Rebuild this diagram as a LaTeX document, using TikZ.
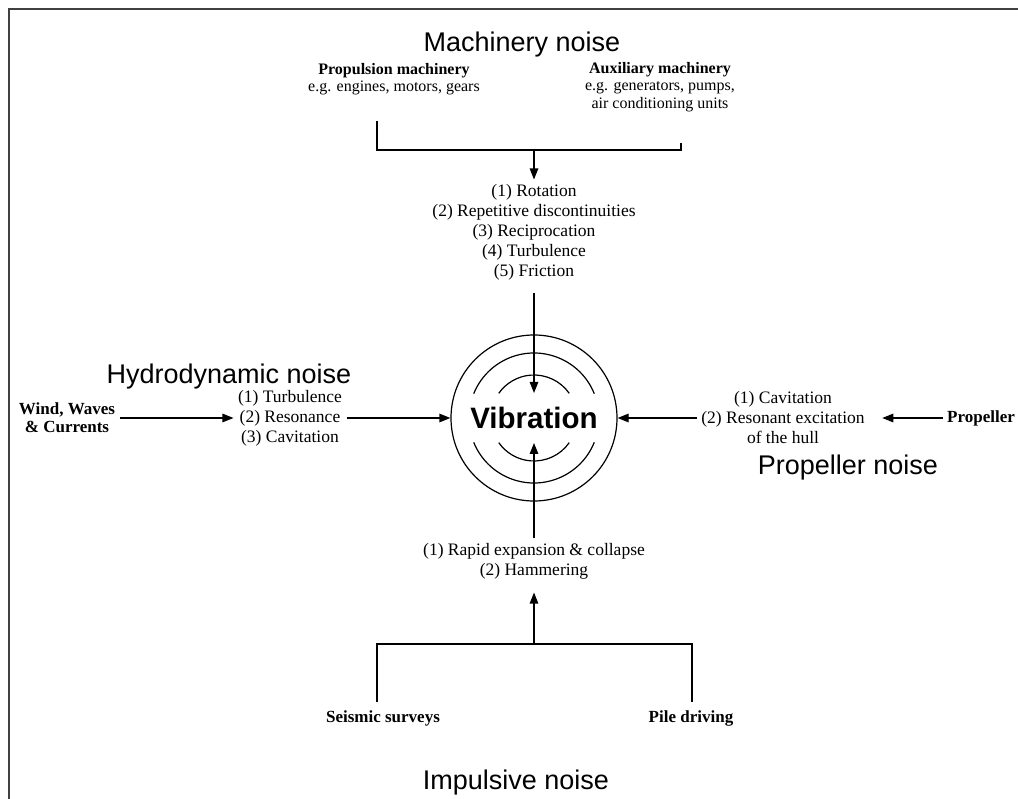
\documentclass[tikz,border=0pt]{standalone}
\usepackage{fontspec}
\setmainfont{Liberation Serif}
\newfontfamily\headfont{Liberation Sans}
\usetikzlibrary{arrows.meta}
\tikzset{
  effect/.style={align=center, inner sep=4pt, font=\fontsize{17.5}{20}\selectfont},
  kind/.style={effect, font=\fontsize{16}{17.5}\selectfont},
  src/.style={effect, font=\fontsize{17}{18}\selectfont\bfseries},
  title/.style={inner sep=0pt, font=\headfont\fontsize{27}{30}\selectfont},
  feed/.style={-{Triangle[length=11pt,width=8.5pt]}}
}
\begin{document}
\begin{tikzpicture}[x=1pt, y=-1pt, line width=1.2pt]
  \clip (0,0) rectangle (1018,799);
  \draw[line width=2pt, black!75] (9,9) rectangle (1040,820);

  % headings
  \node[title] (machT) at (522,45) {Machinery noise};
  \node[title] (hydroT) at (229,377) {Hydrodynamic noise};
  \node[title] (propT) at (848,468) {Propeller noise};
  \node[title] (implT) at (516,783) {Impulsive noise};

  % centre target
  \node[circle, draw, minimum size=166, inner sep=0pt,
        font=\headfont\bfseries\fontsize{29.5}{30}\selectfont] (vib) at (534,418) {Vibration};
  \foreach \rad/\ang in {65/22, 43/35} {
    \draw ([shift={(\ang:\rad)}]vib.center) arc[start angle=\ang, end angle=180-\ang, radius=\rad];
    \draw ([shift={(-\ang:\rad)}]vib.center) arc[start angle=-\ang, end angle=-180+\ang, radius=\rad];
  }
  \coordinate (vibN) at (534,393);
  \coordinate (vibS) at (534,443);

  % machinery
  \node[kind] (propm) at (394,79) {\textbf{Propulsion machinery}\\e.g. engines, motors, gears};
  \node[kind] (auxm) at (660,87) {\textbf{Auxiliary machinery}\\e.g. generators, pumps,\\air conditioning units};
  \coordinate (machL) at (377,121);
  \coordinate (machR) at (681,143);
  \coordinate (machJ) at (534,150);
  \draw (machL) |- (machJ) -| (machR);
  \node[effect] (machlist) at (534,232) {(1) Rotation\\(2) Repetitive discontinuities\\(3) Reciprocation\\(4) Turbulence\\(5) Friction};
  \draw[feed] (machJ) -- (machlist);
  \draw[feed, shorten <=8pt] (machlist) -- (vibN);

  % hydrodynamic
  \node[src] (wind) at (67,418) {Wind, Waves\\\& Currents};
  \node[effect] (hydrolist) at (290,418) {(1) Turbulence\\(2) Resonance\\(3) Cavitation};
  \draw[feed] (wind) -- (hydrolist);
  \draw[feed] (hydrolist) -- (vib);

  % propeller
  \node[src] (propsrc) at (981,418) {Propeller};
  \node[effect] (proplist) at (783,418) {(1) Cavitation\\(2) Resonant excitation\\of the hull};
  \draw[feed, shorten >=13pt] (propsrc) -- (proplist);
  \draw[feed] (proplist) -- (vib);

  % impulsive
  \node[effect] (impllist) at (534,561) {(1) Rapid expansion \& collapse\\(2) Hammering};
  \draw[feed] (impllist) -- (vibS);
  \coordinate (implJ) at (534,644);
  \draw[feed, shorten >=9pt] (implJ) -- (impllist);
  \node[src] (seis) at (383,718) {Seismic surveys};
  \node[src] (pile) at (691,718) {Pile driving};
  \coordinate (seisT) at (377,702);
  \coordinate (pileT) at (692,702);
  \draw (seisT) |- (implJ) -| (pileT);
\end{tikzpicture}
\end{document}
